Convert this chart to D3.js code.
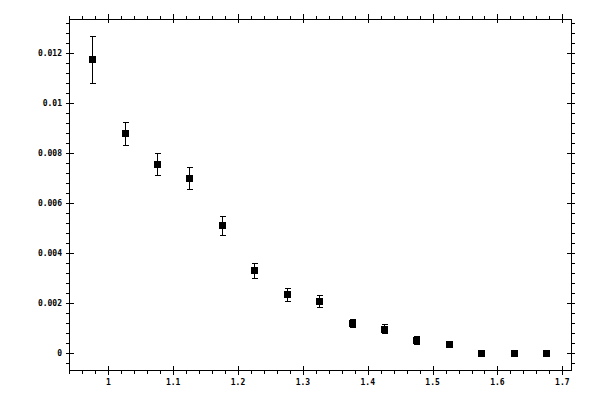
<!DOCTYPE html>
<html>
<head>
<meta charset="utf-8">
<script src="https://cdn.jsdelivr.net/npm/d3@7"></script>
<style>
  body { margin: 0; background: #fff; }
  svg text { font-family: "DejaVu Sans Mono", monospace; font-size: 8px; font-weight: bold; fill: #000; }
</style>
</head>
<body>
<div id="chart"></div>
<script>
// data
let xValues = [0.975, 1.025, 1.075, 1.125, 1.175, 1.225, 1.275, 1.325, 1.375, 1.425, 1.475, 1.525, 1.575, 1.625, 1.675];
let yValues = [0.01176, 0.0088, 0.00756, 0.0070, 0.00512, 0.00332, 0.00236, 0.00208, 0.0012, 0.00099, 0.00052, 0.00036, 0, 0, 0];
let yErrors = [0.00094, 0.00047, 0.00044, 0.00044, 0.00038, 0.0003, 0.00026, 0.00024, 0.00016, 0.00017, 0.00016, 0.00008, 0.00004, 0.00004, 0.00004];
let xTicks = [1, 1.1, 1.2, 1.3, 1.4, 1.5, 1.6, 1.7];
let yTicks = [0, 0.002, 0.004, 0.006, 0.008, 0.01, 0.012];

let chart = { width: 600, height: 400 };
let box = { left: 69, right: 571, top: 19, bottom: 370 };

let svg = d3.select("#chart").append("svg")
  .attr("width", chart.width)
  .attr("height", chart.height)
  .attr("shape-rendering", "crispEdges");

let x = d3.scaleLinear().domain([0.9394, 1.7134]).range([box.left, box.right]);
let y = d3.scaleLinear().domain([-0.000668, 0.013372]).range([box.bottom, box.top]);

let xMinor = d3.range(0.94, 1.7134, 0.02).filter(v => v >= 0.9394);
let yMinor = d3.range(-0.0004, 0.01337, 0.0004);

// frame
svg.append("rect")
  .attr("x", box.left + 0.5).attr("y", box.top + 0.5)
  .attr("width", box.right - box.left).attr("height", box.bottom - box.top)
  .attr("fill", "none").attr("stroke", "#000");

let ticks = svg.append("g").attr("stroke", "#000");

// minor ticks point outward, major ones cross the frame
xMinor.forEach(v => {
  let px = Math.round(x(v)) + 0.5;
  ticks.append("line").attr("x1", px).attr("x2", px).attr("y1", box.bottom).attr("y2", box.bottom + 4);
  ticks.append("line").attr("x1", px).attr("x2", px).attr("y1", box.top).attr("y2", box.top - 3);
});
yMinor.forEach(v => {
  let py = Math.round(y(v)) + 0.5;
  ticks.append("line").attr("y1", py).attr("y2", py).attr("x1", box.left).attr("x2", box.left - 3);
  ticks.append("line").attr("y1", py).attr("y2", py).attr("x1", box.right + 1).attr("x2", box.right + 4);
});
xTicks.forEach(v => {
  let px = Math.round(x(v)) + 0.5;
  ticks.append("line").attr("x1", px).attr("x2", px).attr("y1", box.bottom - 4).attr("y2", box.bottom + 5);
  ticks.append("line").attr("x1", px).attr("x2", px).attr("y1", box.top - 5).attr("y2", box.top + 4);
});
yTicks.forEach(v => {
  let py = Math.round(y(v)) + 0.5;
  ticks.append("line").attr("y1", py).attr("y2", py).attr("x1", box.left - 3).attr("x2", box.left + 5);
  ticks.append("line").attr("y1", py).attr("y2", py).attr("x1", box.right - 4).attr("x2", box.right + 4);
});

// tick labels
svg.append("g").selectAll("text")
  .data(xTicks).enter().append("text")
  .attr("x", d => x(d))
  .attr("y", box.bottom + 15)
  .attr("text-anchor", "middle")
  .text(d => d3.format("~g")(d));

svg.append("g").selectAll("text")
  .data(yTicks).enter().append("text")
  .attr("x", box.left - 7)
  .attr("y", d => y(d) + 3)
  .attr("text-anchor", "end")
  .text(d => d3.format("~g")(d));

// error bars
let points = xValues.map((v, i) => ({ x: v, y: yValues[i], e: yErrors[i] }));
let bars = svg.append("g").attr("stroke", "#000");
points.forEach(p => {
  let px = Math.round(x(p.x)) + 0.5;
  let top = Math.round(y(p.y + p.e)) + 0.5;
  let bot = Math.round(y(p.y - p.e)) + 0.5;
  bars.append("line").attr("x1", px).attr("x2", px).attr("y1", top).attr("y2", bot);
  bars.append("line").attr("x1", px - 3).attr("x2", px + 3).attr("y1", top).attr("y2", top);
  bars.append("line").attr("x1", px - 3).attr("x2", px + 3).attr("y1", bot).attr("y2", bot);
});

// square markers
svg.append("g").selectAll("rect")
  .data(points).enter().append("rect")
  .attr("x", d => Math.round(x(d.x)) - 3)
  .attr("y", d => Math.round(y(d.y)) - 3)
  .attr("width", 7)
  .attr("height", 7)
  .attr("fill", "#000");
</script>
</body>
</html>
